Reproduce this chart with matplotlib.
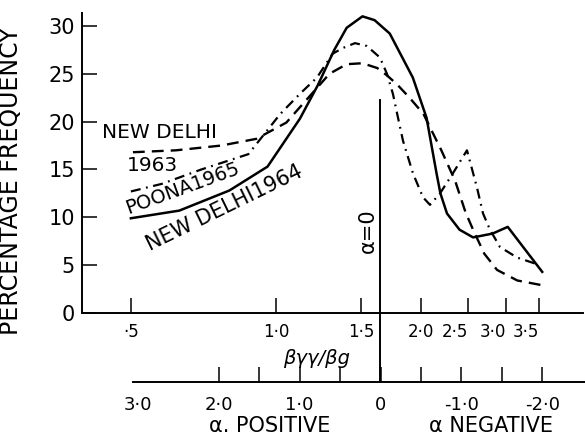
import matplotlib
matplotlib.use("Agg")
import matplotlib.pyplot as plt
from matplotlib.ticker import NullLocator

# New Delhi 1964 (solid)
delhi64_ratio = [0.50, 0.63, 0.80, 0.96, 1.12, 1.22, 1.32, 1.40, 1.51, 1.60, 1.72,
                 1.92, 2.05, 2.15, 2.19, 2.26, 2.40, 2.56, 2.81, 3.02, 3.25, 3.56]
delhi64_freq = [9.9, 10.7, 12.8, 15.3, 20.3, 23.8, 27.5, 29.8, 31.0, 30.6, 29.2,
                24.6, 20.4, 14.6, 12.5, 10.4, 8.7, 7.9, 8.3, 9.0, 6.9, 4.3]

# New Delhi 1963 (dashed)
delhi63_ratio = [0.505, 0.62, 0.77, 0.91, 1.05, 1.12, 1.19, 1.29, 1.40, 1.51, 1.62,
                 1.70, 1.78, 1.89, 2.02, 2.20, 2.35, 2.47, 2.56, 2.70, 2.87, 3.16, 3.56]
delhi63_freq = [16.8, 17.0, 17.5, 18.2, 19.9, 21.5, 23.0, 25.0, 26.0, 26.1, 25.6,
                24.8, 23.9, 22.5, 20.8, 17.0, 13.8, 10.5, 8.7, 6.2, 4.5, 3.4, 2.9]

# Poona 1965 (dash-dot)
poona65_ratio = [0.50, 0.58, 0.70, 0.876, 1.02, 1.12, 1.215, 1.31, 1.376, 1.457, 1.542,
                 1.641, 1.697, 1.746, 1.789, 1.832, 1.921, 2.015, 2.084, 2.186, 2.325,
                 2.486, 2.608, 2.684, 2.775, 2.91, 3.156, 3.52]
poona65_freq = [12.7, 13.5, 15.0, 16.6, 20.8, 22.9, 24.6, 27.1, 27.7, 28.2, 27.9,
                26.7, 25.0, 22.9, 20.4, 18.0, 14.6, 12.1, 11.3, 12.5, 14.6,
                17.0, 13.1, 10.4, 8.7, 6.9, 5.8, 5.0]

ratio_ticks = [0.5, 1.0, 1.5, 2.0, 2.5, 3.0, 3.5]
ratio_labels = ["·5", "1·0", "1·5", "2·0", "2·5", "3·0", "3·5"]
freq_ticks = [0, 5, 10, 15, 20, 25, 30]

alpha_major = [3.0, 2.0, 1.0, 0.0, -1.0, -2.0]
alpha_labels = ["3·0", "2·0", "1·0", "0", "-1·0", "-2·0"]
alpha_minor = [1.5, 0.5, -0.5, -1.5]
alpha_zero_ratio = 1.64

plt.rcParams["font.family"] = "DejaVu Sans"
W, H = 585, 440
fig = plt.figure(figsize=(W / 100, H / 100), dpi=100)

ax = fig.add_axes([82 / W, 1 - 313 / H, (583 - 82) / W, 300 / H])
ax.set_xscale("log")
ax.set_xlim(0.396, 4.325)
ax.set_ylim(0, 31.35)
for s in ["top", "right"]:
    ax.spines[s].set_visible(False)
for s in ["left", "bottom"]:
    ax.spines[s].set_linewidth(1.4)

ax.plot(delhi64_ratio, delhi64_freq, color="black", lw=1.8)
ax.plot(delhi63_ratio, delhi63_freq, color="black", lw=1.7, dashes=(5, 3))
ax.plot(poona65_ratio, poona65_freq, color="black", lw=1.6, dashes=(4.5, 2.5, 0.8, 2.5))

ax.set_yticks(freq_ticks)
ax.set_yticklabels([str(v) for v in freq_ticks], fontsize=15)
ax.set_xticks(ratio_ticks)
ax.set_xticklabels(ratio_labels, fontsize=12)
ax.xaxis.set_minor_locator(NullLocator())
ax.tick_params(axis="both", direction="in", length=11, width=1.1, color="black")
ax.tick_params(axis="x", pad=7)
ax.tick_params(axis="y", pad=5)
for lbl, v in zip(ax.get_xticklabels(), ratio_ticks):
    if v >= 2.5:
        lbl.set_ha("right")

# alpha = 0 reference line, crossing both scales
ax.axvline(alpha_zero_ratio, ymin=-69 / 300, ymax=213 / 300, color="black",
           lw=1.4, clip_on=False)
ax.text(1.55, 8.6, "α=0", rotation=90, ha="center", va="center", fontsize=15)

# curve labels
ax.text(0.574, 18.85, "NEW DELHI", ha="center", va="center", fontsize=14.5)
ax.text(0.553, 15.4, "1963", ha="center", va="center", fontsize=14.5)
ax.text(0.645, 12.45, "POONA1965", ha="center", va="baseline", fontsize=14,
        rotation=20, rotation_mode="anchor")
ax.text(0.79, 10.45, "NEW DELHI1964", ha="center", va="baseline", fontsize=15,
        rotation=26, rotation_mode="anchor")

# secondary alpha scale
ax2 = fig.add_axes([133 / W, 1 - 382 / H, (585 - 133) / W, 0.001])
ax2.patch.set_visible(False)
for s in ["top", "right", "left"]:
    ax2.spines[s].set_visible(False)
ax2.spines["bottom"].set_linewidth(1.4)
ax2.set_yticks([])
ax2.set_xlim(3.056, -2.525)
ax2.set_xticks(alpha_major)
ax2.set_xticklabels(alpha_labels, fontsize=13)
ax2.set_xticks(alpha_minor, minor=True)
ax2.tick_params(axis="x", which="both", direction="in", length=11, width=1.1, pad=10)
ax2.xaxis.get_major_ticks()[0].tick1line.set_visible(False)

fig.text(317 / W, 1 - 358 / H, "βγγ/βg", ha="center", va="center",
         fontsize=14, style="italic")
fig.text(270 / W, 1 - 426 / H, "α. POSITIVE", ha="center", va="center", fontsize=15)
fig.text(491 / W, 1 - 426 / H, "α NEGATIVE", ha="center", va="center", fontsize=15)
fig.text(11 / W, 1 - 181 / H, "PERCENTAGE FREQUENCY", rotation=90,
         ha="center", va="center", fontsize=17)

fig.savefig("out.png", dpi=100)
